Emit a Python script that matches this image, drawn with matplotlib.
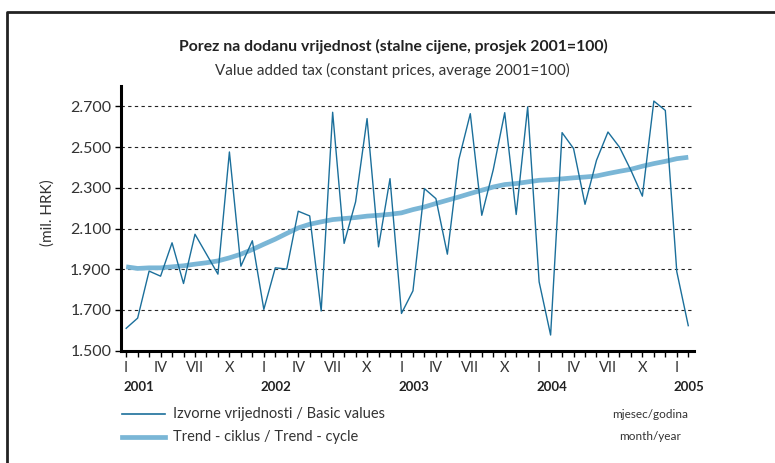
import numpy as np
import matplotlib.pyplot as plt
from matplotlib.lines import Line2D
from matplotlib.transforms import offset_copy

# monthly data Jan 2001 - Feb 2005 (mil. HRK)
basic = [1610, 1660, 1891, 1866, 2030, 1830, 2072, 1974, 1876, 2476, 1915, 2040,
         1703, 1907, 1901, 2185, 2162, 1695, 2671, 2027, 2231, 2640, 2010, 2345,
         1683, 1794, 2296, 2247, 1974, 2439, 2664, 2165, 2389, 2669, 2169, 2697,
         1838, 1577, 2571, 2493, 2219, 2435, 2574, 2500, 2386, 2259, 2726, 2680,
         1888, 1623]
trend = [1912, 1904, 1907, 1907, 1912, 1917, 1925, 1932, 1941, 1956, 1974, 1997,
         2023, 2048, 2076, 2103, 2121, 2133, 2144, 2149, 2154, 2161, 2165, 2170,
         2177, 2193, 2206, 2223, 2239, 2255, 2272, 2288, 2304, 2316, 2321, 2329,
         2337, 2340, 2344, 2349, 2353, 2358, 2370, 2381, 2391, 2406, 2419, 2430,
         2443, 2450]
months = ["I", "IV", "VII", "X"]
years = ["2001", "2002", "2003", "2004", "2005"]
yticks = [1500, 1700, 1900, 2100, 2300, 2500, 2700]
ylabels = ["1.500", "1.700", "1.900", "2.100", "2.300", "2.500", "2.700"]

c_basic = "#1b6f9b"
c_trend = "#7ab6d6"
txt = "#333333"
font = "Lato"

fig = plt.figure(figsize=(7.75, 4.63), dpi=100)
ax = fig.add_axes([121 / 775, 1 - 350.7 / 463, (694 - 121) / 775, (350.7 - 86) / 463])

x = np.arange(len(basic))
ax.plot(x, trend, color=c_trend, linewidth=3.4, solid_capstyle="butt", zorder=3)
ax.plot(x, basic, color=c_basic, linewidth=1.0, zorder=4)

ax.set_xlim(-0.45, len(basic) - 0.5)
ax.set_ylim(1500, 2800)

for v in yticks[1:]:
    ax.axhline(v, color="#222222", linewidth=0.8, linestyle=(0, (3, 3)), zorder=1)

ax.set_yticks(yticks)
ax.set_yticklabels(ylabels, family=font, fontsize=11.5, color=txt)
ax.tick_params(axis="y", length=4, width=1, pad=3)

ax.set_xticks(x, minor=True)
ax.set_xticks([])
ax.tick_params(axis="x", which="minor", length=4, width=1)
xtr = ax.get_xaxis_transform()
ytr = offset_copy(xtr, fig=fig, x=-3, units="dots")
for i in x:
    if i % 3 == 0:
        ax.text(i, -0.065, months[(i % 12) // 3], transform=xtr,
                ha="center", va="center", family=font, fontsize=10.5, color=txt)
    if i % 12 == 0:
        ax.text(i, -0.137, years[i // 12], transform=ytr,
                ha="left", va="center", family=font, fontsize=9.5, fontweight="bold", color="#222222")

for s in ["top", "right"]:
    ax.spines[s].set_visible(False)
ax.spines["left"].set_linewidth(2.2)
ax.spines["bottom"].set_linewidth(2.2)

fig.text(48 / 775, 1 - 213 / 463, "(mil. HRK)", rotation=90, ha="center", va="center",
         family=font, fontsize=11, color=txt)

fig.text(393 / 775, 1 - 46 / 463, "Porez na dodanu vrijednost (stalne cijene, prosjek 2001=100)",
         ha="center", va="center", family=font, fontsize=11.3, fontweight="bold", color="#222222")
fig.text(392 / 775, 1 - 70 / 463, "Value added tax (constant prices, average 2001=100)",
         ha="center", va="center", family=font, fontsize=10.9, color=txt)

# legend
fig.add_artist(Line2D([122 / 775, 165 / 775], [1 - 414 / 463] * 2, color=c_basic, linewidth=1.2))
fig.add_artist(Line2D([122 / 775, 165 / 775], [1 - 437 / 463] * 2, color=c_trend, linewidth=3.4))
fig.text(173 / 775, 1 - 414 / 463, "Izvorne vrijednosti / Basic values", ha="left", va="center",
         family=font, fontsize=10.5, color=txt)
fig.text(173 / 775, 1 - 437 / 463, "Trend - ciklus / Trend - cycle", ha="left", va="center",
         family=font, fontsize=10.5, color=txt)
fig.text(650 / 775, 1 - 414 / 463, "mjesec/godina", ha="center", va="center",
         family=font, fontsize=8.5, color=txt)
fig.text(650 / 775, 1 - 437 / 463, "month/year", ha="center", va="center",
         family=font, fontsize=8.5, color=txt)

# outer frame (left and top edges visible)
fig.add_artist(Line2D([7 / 775, 7 / 775, 1], [0, 1 - 12 / 463, 1 - 12 / 463],
                      color="#222222", linewidth=2))

fig.savefig("out.png", dpi=100)
